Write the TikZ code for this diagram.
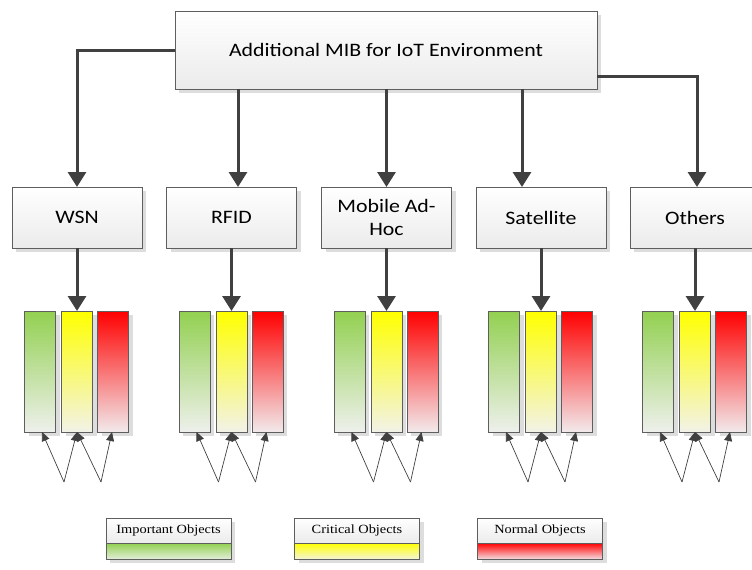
\documentclass[tikz,border=0pt]{standalone}
\usepackage{fontspec}
\setmainfont{Carlito}[FakeStretch=1.15]
\newfontfamily\legendfont{Liberation Serif}[FakeStretch=1.15]
\usetikzlibrary{arrows.meta,shadows}

\definecolor{linegray}{HTML}{404040}
\definecolor{boxedge}{HTML}{5E5E5E}
\definecolor{shadowgray}{HTML}{DDDDDD}
\definecolor{panelfade}{HTML}{EBEBEB}
\definecolor{objgreen}{HTML}{92D050}
\definecolor{objyellow}{HTML}{FFFF00}
\definecolor{objred}{HTML}{FF0000}
\definecolor{greenfade}{HTML}{EEF0EC}
\definecolor{yellowfade}{HTML}{F2F2E8}
\definecolor{redfade}{HTML}{F2EAEC}
\definecolor{greenlight}{HTML}{E2EDD8}
\definecolor{yellowlight}{HTML}{F4F4D6}
\definecolor{redlight}{HTML}{F4DCE0}

\tikzset{
  boxshadow/.style={drop shadow={shadow xshift=4pt, shadow yshift=-4pt, fill=shadowgray, opacity=1}},
  panel/.style={draw=boxedge, line width=0.8pt, top color=white, bottom color=panelfade,
    boxshadow, inner sep=0pt, outer sep=0pt, align=center,
    font=\fontsize{19}{23}\selectfont},
  catbox/.style={panel, minimum width=130pt, minimum height=61pt},
  bar/.style={draw=boxedge, line width=0.8pt, minimum width=31pt, minimum height=121pt,
    inner sep=0pt, outer sep=0pt, boxshadow},
  greenbar/.style={bar, top color=objgreen, bottom color=greenfade},
  yellowbar/.style={bar, top color=objyellow, bottom color=yellowfade},
  redbar/.style={bar, top color=objred, bottom color=redfade},
  legtop/.style={draw=boxedge, line width=0.8pt, top color=white, bottom color=panelfade,
    boxshadow, minimum width=125pt, minimum height=25pt, inner sep=0pt, outer sep=0pt,
    font=\legendfont\fontsize{12.5}{14}\selectfont},
  legbot/.style={draw=boxedge, line width=0.8pt, boxshadow, minimum width=125pt,
    minimum height=16pt, inner sep=0pt, outer sep=0pt},
  mainarrow/.style={draw=linegray, line width=3pt, -{Triangle[length=15pt,width=18pt]}},
  thinarrow/.style={draw=linegray, line width=0.7pt, -{Triangle[length=9pt,width=8pt]}},
}

\begin{document}
\begin{tikzpicture}[x=1pt, y=-1pt]
\useasboundingbox (0,0) rectangle (752,570);

% root node
\node[panel, minimum width=422pt, minimum height=78pt] (top) at (386,50)
  {Additional MIB for IoT Environment};

% network categories
\node[catbox] (wsn)  at (77,217.5)    {WSN};
\node[catbox] (rfid) at (231.5,217.5) {RFID};
\node[catbox] (mob)  at (386.5,217.5) {Mobile Ad-\\Hoc};
\node[catbox] (sat)  at (541,217.5)   {Satellite};
\node[catbox] (oth)  at (695,217.5)   {Others};

% root to categories
\draw[mainarrow] (top.west) -| (wsn.north);
\draw[mainarrow] ([xshift=6.5pt]rfid.north |- top.south) -- ([xshift=6.5pt]rfid.north);
\draw[mainarrow] (mob.north |- top.south) -- (mob.north);
\draw[mainarrow] ([xshift=-19pt]sat.north |- top.south) -- ([xshift=-19pt]sat.north);
\draw[mainarrow] ([yshift=-26pt]top.east) -| ([xshift=2pt]oth.north);

% object bars under each category
\foreach \c/\n in {77/wsn, 231.5/rfid, 386.5/mob, 541/sat, 695/oth} {
  \node[greenbar]  (\n-g) at ({\c-37},371.5) {};
  \node[yellowbar] (\n-y) at (\c,371.5) {};
  \node[redbar]    (\n-r) at ({\c+36},371.5) {};
  \draw[mainarrow] (\n.south) -- (\n-y.north);
  \coordinate (\n-p) at ({\c-13},482);
  \coordinate (\n-q) at ({\c+24},482);
  \draw[thinarrow] (\n-p) -- ([xshift=2pt]\n-g.south);
  \draw[thinarrow] (\n-p) -- (\n-y.south);
  \draw[thinarrow] (\n-q) -- (\n-y.south);
  \draw[thinarrow] (\n-q) -- ([xshift=-1pt]\n-r.south);
}

% legend
\node[legtop] (imp) at (168.5,530.5) {Important Objects};
\node[legbot, top color=objgreen, bottom color=greenlight] (impbar) at (168.5,551) {};
\node[legtop] (cri) at (357,530.5) {Critical Objects};
\node[legbot, top color=objyellow, bottom color=yellowlight] (cribar) at (357,551) {};
\node[legtop] (nor) at (540,530.5) {Normal Objects};
\node[legbot, top color=objred, bottom color=redlight] (norbar) at (540,551) {};
\end{tikzpicture}
\end{document}
